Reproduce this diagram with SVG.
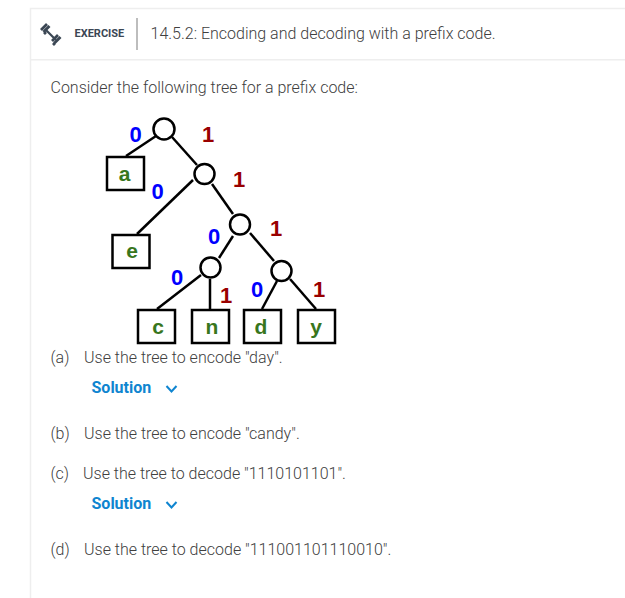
<svg xmlns="http://www.w3.org/2000/svg" width="625" height="598" viewBox="0 0 625 598">
<style>
.r{font-family:Roboto,"Liberation Sans",sans-serif;font-weight:300;font-size:16px;fill:#404040}
.sol{font-family:Roboto,"Liberation Sans",sans-serif;font-weight:700;font-size:16px;fill:#0f85d0}
.chev{fill:none;stroke:#0f85d0;stroke-width:2}
.b{font-family:"Liberation Sans",Arial,sans-serif;font-weight:700;font-size:21px;text-anchor:middle}
.d{font-size:22px}
.z{fill:#0000ff}.o{fill:#990000}.l{fill:#38761d}
.e{stroke:#000;stroke-width:2.5;fill:none}
.n{fill:#fff;stroke:#000;stroke-width:2.5}
.leaf{fill:#fff;stroke:#000;stroke-width:2.5}
</style>
<rect width="625" height="598" fill="#fff"/>
<path d="M30.500 598V8.500H625" fill="none" stroke="#eeeeee" stroke-width="1.500"/>
<rect x="30" y="59" width="595" height="1.500" fill="#eeeeee"/>
<g id="header">
<g stroke="#3b4754" fill="none" stroke-linecap="butt">
<path d="M45 29L56 40" stroke-width="2.200"/>
<path d="M41 30L47 24M43.500 32L49.500 26M44 34L46 32M52 41L58 35M54 43.500L60.500 37M53 45L55 43" stroke-width="2.800"/>
</g>
<text x="74.500" y="37" font-family="Roboto,'Liberation Sans',sans-serif" font-weight="700" font-size="11" fill="#3b4754">EXERCISE</text>
<rect x="136" y="18" width="2" height="32" fill="#bdbdbd"/>
<text class="r" x="150.500" y="39">14.5.2: Encoding and decoding with a prefix code.</text>
</g>
<text class="r" x="50.500" y="93">Consider the following tree for a prefix code:</text>
<g id="connectors">
<path class="e" d="M156 136L126 156"/>
<path class="e" d="M172 137L197 165"/>
<path class="e" d="M193 180L137 234"/>
<path class="e" d="M212 184L233 214"/>
<path class="e" d="M233 236L219 258"/>
<path class="e" d="M201 275L157 309"/>
<path class="e" d="M210 279V309"/>
<path class="e" d="M250 233L274 261"/>
<path class="e" d="M277 281L262 309"/>
<path class="e" d="M290 279L316 309"/>
</g>
<g id="n1"><circle class="n" cx="164" cy="129" r="10.500"/></g>
<g id="n2"><circle class="n" cx="204.500" cy="174" r="10"/></g>
<g id="n3"><circle class="n" cx="240" cy="224.500" r="10"/></g>
<g id="n4"><circle class="n" cx="210.500" cy="267.500" r="10"/></g>
<g id="n5"><circle class="n" cx="281.500" cy="271" r="10"/></g>
<g id="leaf-a"><rect class="leaf" x="107" y="157" width="37" height="33"/><text class="b l" x="124.500" y="181">a</text></g>
<g id="leaf-e"><rect class="leaf" x="112.500" y="235" width="37" height="33"/><text class="b l" x="132" y="258">e</text></g>
<g id="leaf-c"><rect class="leaf" x="138" y="310" width="37" height="33"/><text class="b l" x="158" y="334">c</text></g>
<g id="leaf-n"><rect class="leaf" x="192" y="310" width="37" height="33"/><text class="b l" x="212" y="334">n</text></g>
<g id="leaf-d"><rect class="leaf" x="244" y="310" width="37" height="33"/><text class="b l" x="261" y="334">d</text></g>
<g id="leaf-y"><rect class="leaf" x="298" y="310" width="37" height="33"/><text class="b l" x="316" y="334">y</text></g>
<g id="edge-labels">
<text class="b d z" x="135.500" y="142">0</text>
<text class="b d o" x="208" y="142">1</text>
<text class="b d z" x="157.500" y="199">0</text>
<text class="b d o" x="239" y="187">1</text>
<text class="b d z" x="214" y="244">0</text>
<text class="b d o" x="276" y="236">1</text>
<text class="b d z" x="177" y="285">0</text>
<text class="b d o" x="226" y="303">1</text>
<text class="b d z" x="257" y="297">0</text>
<text class="b d o" x="319" y="297">1</text>
</g>
<text class="r" x="50.500" y="363">(a)</text><text class="r" x="84" y="363">Use the tree to encode "day".</text>
<text class="sol" x="91.500" y="393">Solution</text><path class="chev" d="M166.500 386L171.500 391.500L176.500 386"/>
<text class="r" x="50.500" y="439">(b)</text><text class="r" x="84" y="439">Use the tree to encode "candy".</text>
<text class="r" x="50.500" y="479">(c)</text><text class="r" x="83" y="479">Use the tree to decode "1110101101".</text>
<text class="sol" x="91.500" y="509">Solution</text><path class="chev" d="M166.500 502L171.500 507.500L176.500 502"/>
<text class="r" x="50.500" y="555">(d)</text><text class="r" x="84" y="555">Use the tree to decode "111001101110010".</text>
</svg>
